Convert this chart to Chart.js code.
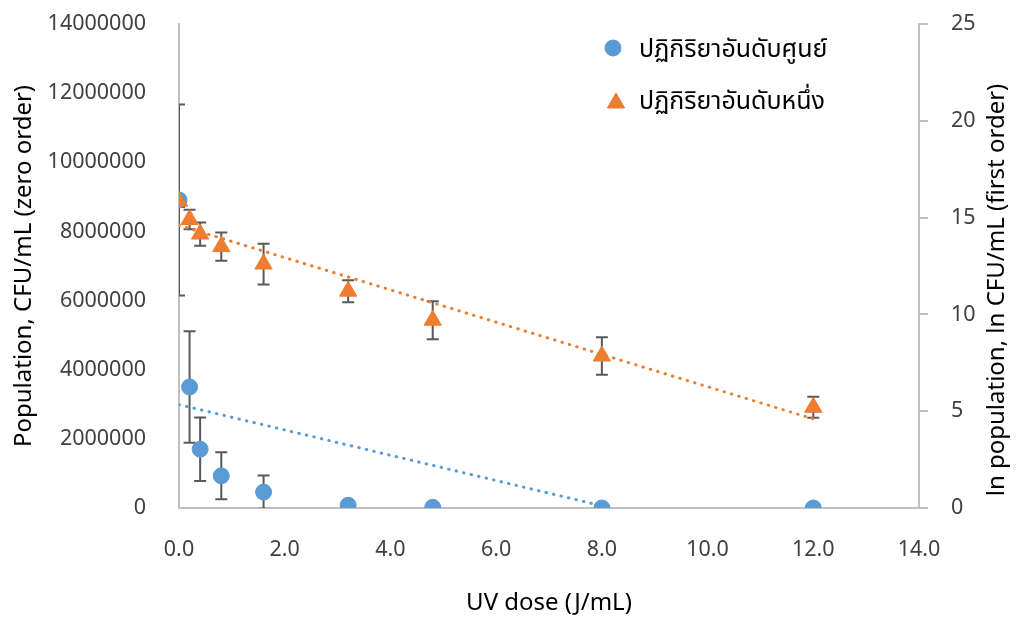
<!DOCTYPE html>
<html><head><meta charset="utf-8">
<script src="https://cdn.jsdelivr.net/npm/chart.js@4/dist/chart.umd.min.js"></script>
<style>html,body{margin:0;padding:0;background:#fff}</style>
</head><body>
<canvas id="c" width="1016" height="619"></canvas>
<script>
// ---- data ----
const uvDose = [0, 0.2, 0.4, 0.8, 1.6, 3.2, 4.8, 8, 12];
const zeroOrder = [8910000, 3500000, 1700000, 930000, 460000, 80000, 20000, 0, 0];
const zeroOrderErr = [2760000, 1610000, 920000, 680000, 480000, 0, 0, 0, 0];
const firstOrder = [15.85, 14.9, 14.15, 13.5, 12.6, 11.2, 9.7, 7.85, 5.2];
const firstOrderErr = [0.3, 0.5, 0.6, 0.73, 1.05, 0.57, 0.98, 0.97, 0.54];
const zeroTrendX = [0, 8.17];
const zeroTrendY = [2990000, 0];
const firstTrendX = [0, 12];
const firstTrendY = [14.6, 4.6];
const seriesNames = ['ปฏิกิริยาอันดับศูนย์', 'ปฏิกิริยาอันดับหนึ่ง'];
const xTitle = 'UV dose (J/mL)';
const yLeftTitle = 'Population, CFU/mL (zero order)';
const yRightTitle = 'ln population, ln CFU/mL (first order)';

const BLUE = '#5B9BD5', ORANGE = '#ED7D31';
const FONT = '"Noto Sans", "Noto Sans Thai", "DejaVu Sans", sans-serif';

const pts = (xs, ys) => xs.map((x, i) => ({x, y: ys[i]}));

const errorBars = {
  id: 'errorBars',
  beforeDatasetsDraw(chart) {
    const ctx = chart.ctx, a = chart.chartArea;
    ctx.save();
    ctx.beginPath(); ctx.rect(a.left, a.top, a.right - a.left, a.bottom - a.top); ctx.clip();
    ctx.strokeStyle = '#595959'; ctx.lineWidth = 2;
    chart.data.datasets.forEach(ds => {
      if (!ds.errors) return;
      const ys = chart.scales[ds.yAxisID], xs = chart.scales.x;
      ds.data.forEach((p, j) => {
        const e = ds.errors[j]; if (!e) return;
        const px = xs.getPixelForValue(p.x);
        const t = ys.getPixelForValue(p.y + e), b = ys.getPixelForValue(p.y - e);
        ctx.beginPath();
        ctx.moveTo(px, t); ctx.lineTo(px, b);
        ctx.moveTo(px - 6, t); ctx.lineTo(px + 6, t);
        ctx.moveTo(px - 6, b); ctx.lineTo(px + 6, b);
        ctx.stroke();
      });
    });
    ctx.restore();
  }
};

const textPlugin = {
  id: 'texts',
  afterDraw(chart) {
    const ctx = chart.ctx, a = chart.chartArea;
    ctx.save();
    ctx.fillStyle = '#000';
    ctx.font = '24px ' + FONT;
    ctx.textAlign = 'center'; ctx.textBaseline = 'middle';
    ctx.fillText(xTitle, (a.left + a.right) / 2, 603);
    const cy = (a.top + a.bottom) / 2;
    ctx.save(); ctx.translate(24, cy); ctx.rotate(-Math.PI / 2); ctx.fillText(yLeftTitle, 0, 0); ctx.restore();
    ctx.save(); ctx.translate(997, 290); ctx.rotate(-Math.PI / 2); ctx.fillText(yRightTitle, 0, 0); ctx.restore();
    // legend
    const items = chart.data.datasets.filter(d => d.inLegend).sort((p, q) => p.legendIndex - q.legendIndex);
    const rows = [48, 100];
    ctx.font = '25px ' + FONT;
    items.forEach((d, i) => {
      const tri = d.pointStyle === 'triangle';
      ctx.fillStyle = d.backgroundColor; ctx.strokeStyle = d.borderColor; ctx.lineWidth = 1;
      Chart.helpers.drawPoint(ctx, {pointStyle: d.pointStyle, radius: d.pointRadius, borderWidth: 1, rotation: 0},
        tri ? 616 : 613, rows[i] + (tri ? 3 : 0));
      ctx.fillStyle = '#000';
      ctx.textAlign = 'left';
      ctx.fillText(d.label, 639, rows[i] + 2);
    });
    ctx.restore();
  }
};

const noVPad = s => { s.paddingTop = 0; s.paddingBottom = 0; };

new Chart(document.getElementById('c'), {
  type: 'scatter',
  data: {
    datasets: [
      {label: seriesNames[1], data: pts(uvDose, firstOrder), errors: firstOrderErr, yAxisID: 'y1',
       pointStyle: 'triangle', pointRadius: 10, backgroundColor: ORANGE, borderColor: ORANGE, borderWidth: 1,
       order: 1, inLegend: true, legendIndex: 1},
      {label: seriesNames[0], data: pts(uvDose, zeroOrder), errors: zeroOrderErr, yAxisID: 'y',
       pointStyle: 'circle', pointRadius: 8, backgroundColor: BLUE, borderColor: BLUE, borderWidth: 1,
       order: 2, inLegend: true, legendIndex: 0},
      {label: 'trend1', data: pts(firstTrendX, firstTrendY), yAxisID: 'y1', showLine: true, pointRadius: 0,
       borderColor: ORANGE, borderWidth: 3, borderDash: [0.5, 7.2], borderCapStyle: 'round', order: 3},
      {label: 'trend0', data: pts(zeroTrendX, zeroTrendY), yAxisID: 'y', showLine: true, pointRadius: 0,
       borderColor: BLUE, borderWidth: 3, borderDash: [0.5, 7.2], borderCapStyle: 'round', order: 4}
    ]
  },
  options: {
    responsive: false, animation: false, devicePixelRatio: 1,
    layout: {padding: {top: 24, right: 0, left: 0, bottom: 0}},
    plugins: {legend: {display: false}, tooltip: {enabled: false}},
    scales: {
      x: {type: 'linear', position: 'bottom', min: 0, max: 14,
          afterFit: s => { s.height = 111; s.paddingLeft = 0; s.paddingRight = 0; },
          grid: {display: false, drawTicks: false},
          border: {display: true, color: '#c0c0c0', width: 2},
          ticks: {stepSize: 2, padding: 29, color: '#404040', font: {family: FONT, size: 21.5},
                  callback: v => v.toFixed(1), maxRotation: 0}},
      y: {type: 'linear', position: 'left', min: 0, max: 14000000,
          afterFit: s => { s.width = 179; noVPad(s); },
          grid: {display: false, drawTicks: false},
          border: {display: true, color: '#c0c0c0', width: 2},
          ticks: {stepSize: 2000000, padding: 33, color: '#404040', font: {family: FONT, size: 21.5},
                  callback: v => String(v)}},
      y1: {type: 'linear', position: 'right', min: 0, max: 25,
          afterFit: s => { s.width = 97; noVPad(s); },
          grid: {display: true, drawOnChartArea: false, drawTicks: true, tickLength: 9, color: '#c0c0c0', lineWidth: 2},
          border: {display: true, color: '#c0c0c0', width: 2},
          ticks: {stepSize: 5, padding: 23, color: '#404040', font: {family: FONT, size: 21.5}}}
    }
  },
  plugins: [errorBars, textPlugin]
});
</script>
</body></html>
